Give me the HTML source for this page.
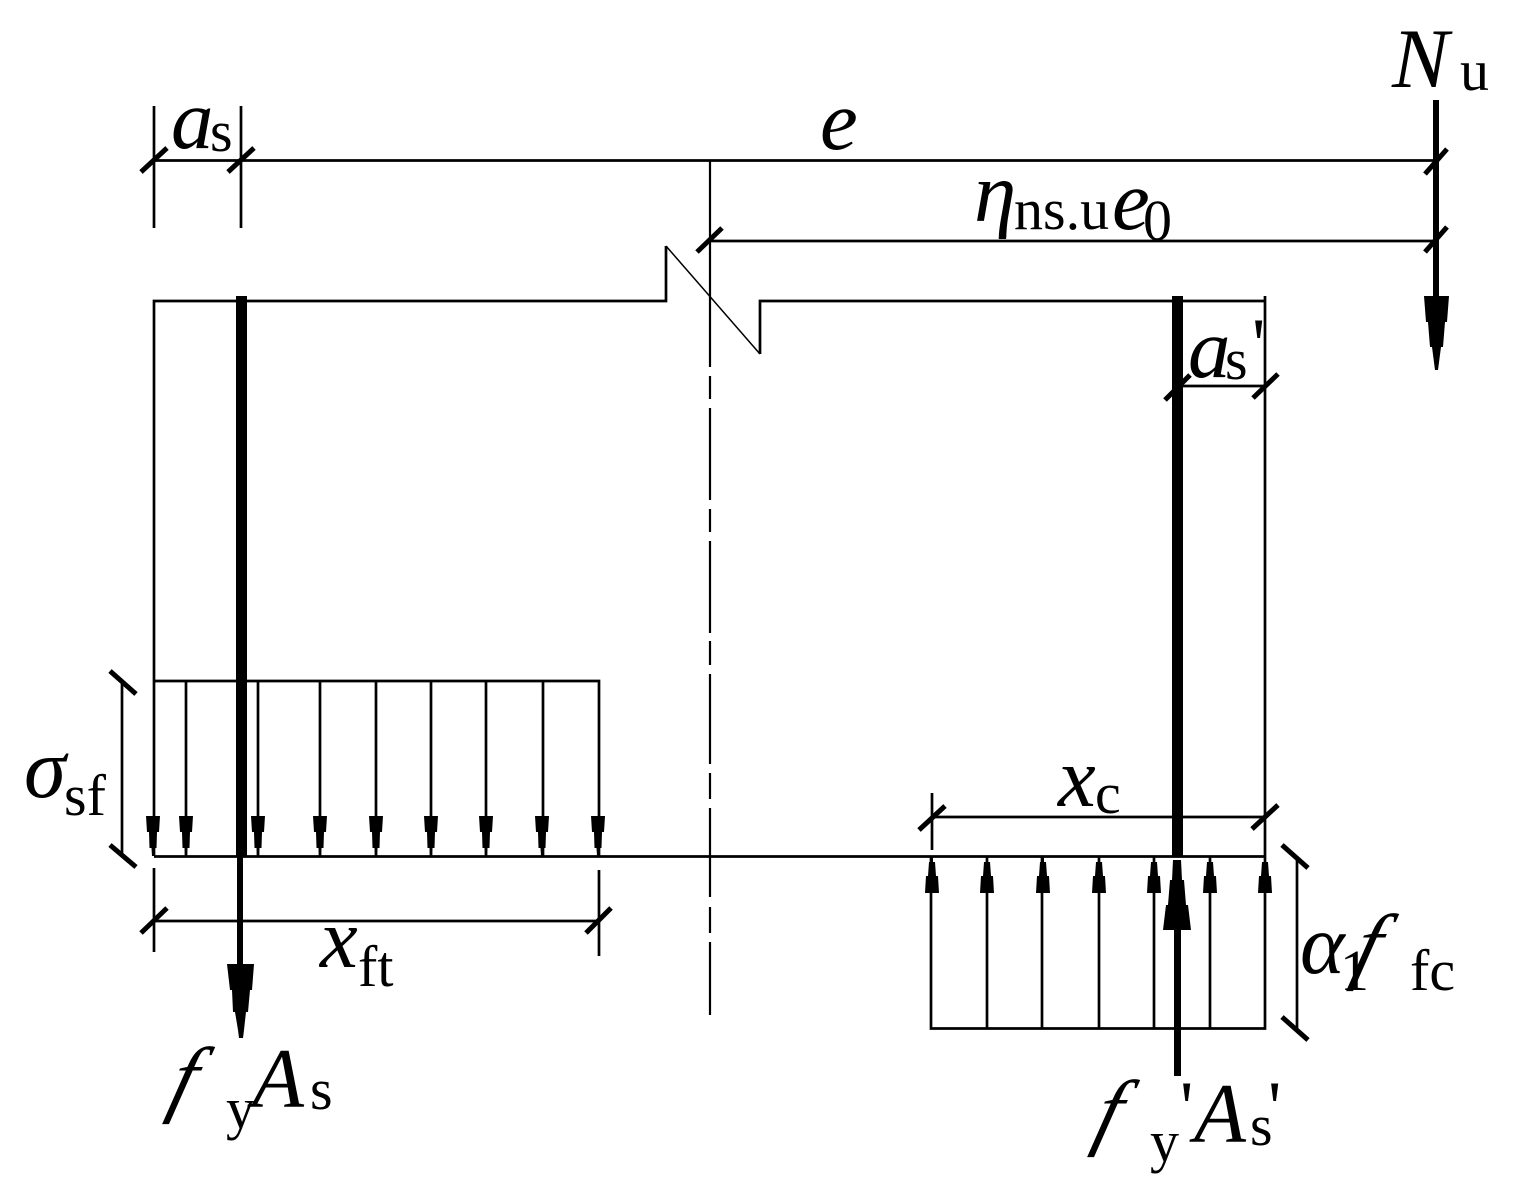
<!DOCTYPE html>
<html><head><meta charset="utf-8"><style>
html,body{margin:0;padding:0;background:#fff}
svg{display:block}
text{font-family:"Liberation Serif",serif;fill:#000}
.i{font-style:italic;font-size:85px}
.s{font-size:58px}
.p{font-size:74px}
</style></head><body>
<svg width="1521" height="1188" viewBox="0 0 1521 1188" xmlns="http://www.w3.org/2000/svg">
<defs>
<polygon id="dn" points="-7,816 7,816 6,832 4,832 3.5,848 1.5,848 1,856 -1,856 -1.5,848 -3.5,848 -4,832 -6,832"/>
<polygon id="up" points="-7,893 7,893 6,876 4,876 3,862 1,862 1,857 -1,857 -1,862 -3,862 -4,876 -6,876"/>
</defs>
<g stroke="#000" stroke-width="2.7" fill="none">
<!-- outline -->
<path d="M154 856V301H666V246"/>
<path d="M760 354V301H1265"/>
<path d="M666 246L760 354" stroke-width="1.5"/>
<path d="M1265 296V1028.500H931V856"/>
<path d="M154 856.500H1265"/>
<!-- left stress -->
<path d="M154 681H599V856"/>
<path d="M186 681V856M258 681V856M320 681V856M376 681V856M431 681V856M486 681V856M543 681V856"/>
<!-- right stress -->
<path d="M987 856V1028M1042 856V1028M1099 856V1028M1154 856V1028M1210 856V1028"/>
<!-- centre line -->
<path d="M710 160V367M710 376V399M710 408V500M710 509V532M710 541V633M710 641V665M710 674V764M710 773V799M710 808V897M710 907V933M710 942V1015" stroke-width="2.200"/>
<!-- dimension lines -->
<path d="M154 160.500H1436M154 106V228M241 106V228"/>
<path d="M710 241H1436"/>
<path d="M1177 386H1265"/>
<path d="M122 681V856"/>
<path d="M154 921H599M154 868V952M599 870V956"/>
<path d="M932 817H1265M932 793V850"/>
<path d="M1297 856V1030"/>
</g>
<!-- ticks -->
<g stroke="#000" stroke-width="5" fill="none">
<path d="M141 172L167 148M228 172L254 148"/>
<path d="M1425 174L1447 149M1425 252L1447 227"/>
<path d="M697 252L722 228"/>
<path d="M1165 400L1190 375M1253 398L1278 374"/>
<path d="M110 671L136 694M110 845L136 867"/>
<path d="M141 933L167 908M586 933L611 908"/>
<path d="M919 830L945 806M1252 829L1278 805"/>
<path d="M1282 845L1308 868M1282 1017L1308 1040"/>
</g>
<!-- heavy bars -->
<g fill="#000">
<rect x="236" y="296" width="11" height="560"/>
<rect x="1172" y="296" width="11" height="560"/>
<rect x="237" y="856" width="6" height="115"/>
<rect x="1174" y="925" width="7" height="151"/>
<rect x="1433" y="100" width="6" height="200"/>
<!-- big arrowheads -->
<polygon points="227,964 254,964 252,990 250,990 248,1012 246,1012 244,1030 243,1038 239,1038 238,1030 235,1012 233,1012 232,990 230,990"/>
<polygon points="1424,296 1449,296 1447,322 1445,322 1443,347 1441,347 1438,370 1435,370 1432,347 1430,347 1428,322 1426,322"/>
<polygon points="1163,930 1191,930 1188,905 1186,905 1184,880 1182,880 1181,860 1173,860 1172,880 1170,880 1168,905 1166,905"/>
<!-- small down arrows -->
<use href="#dn" x="153"/><use href="#dn" x="186"/><use href="#dn" x="258"/><use href="#dn" x="320"/><use href="#dn" x="376"/><use href="#dn" x="431"/><use href="#dn" x="486"/><use href="#dn" x="542"/><use href="#dn" x="598"/>
<!-- small up arrows -->
<use href="#up" x="932"/><use href="#up" x="987"/><use href="#up" x="1043"/><use href="#up" x="1099"/><use href="#up" x="1154"/><use href="#up" x="1210"/><use href="#up" x="1265"/>
</g>
<!-- labels -->
<text class="i" x="1392" y="87">N</text><text class="s" x="1460" y="90">u</text>
<text class="i" x="171" y="148">a</text><text class="s" x="210" y="151">s</text>
<text class="i" x="820" y="149">e</text>
<text class="i" x="974" y="221">η</text><text class="s" x="1014" y="229">ns.u</text><text class="i" x="1112" y="229">e</text><text class="s" x="1143" y="240">0</text>
<text class="i" x="1188" y="377">a</text><text class="s" x="1225" y="379">s</text><text class="p" x="1252" y="369">'</text>
<text class="i" x="24" y="797">σ</text><text class="s" x="64" y="815">sf</text>
<text class="i" x="320" y="967">x</text><text class="s" x="358" y="986">ft</text>
<text class="i" x="1058" y="806">x</text><text class="s" x="1095" y="813">c</text>
<text class="i" x="1300" y="973">α</text><text class="s" x="1340" y="990">1</text>
<text class="i" transform="translate(1350,973) skewX(-15)">f</text><text class="s" x="1410" y="990">fc</text>
<text class="i" transform="translate(166,1106) skewX(-15)">f</text><text class="s" x="226" y="1128">y</text><text class="i" x="252" y="1107">A</text><text class="s" x="310" y="1109">s</text>
<text class="i" transform="translate(1091,1139) skewX(-15)">f</text><text class="s" x="1150" y="1161">y</text><text class="p" x="1180" y="1132">'</text><text class="i" x="1194" y="1142">A</text><text class="s" x="1250" y="1145">s</text><text class="p" x="1268" y="1132">'</text>
</svg>
</body></html>
